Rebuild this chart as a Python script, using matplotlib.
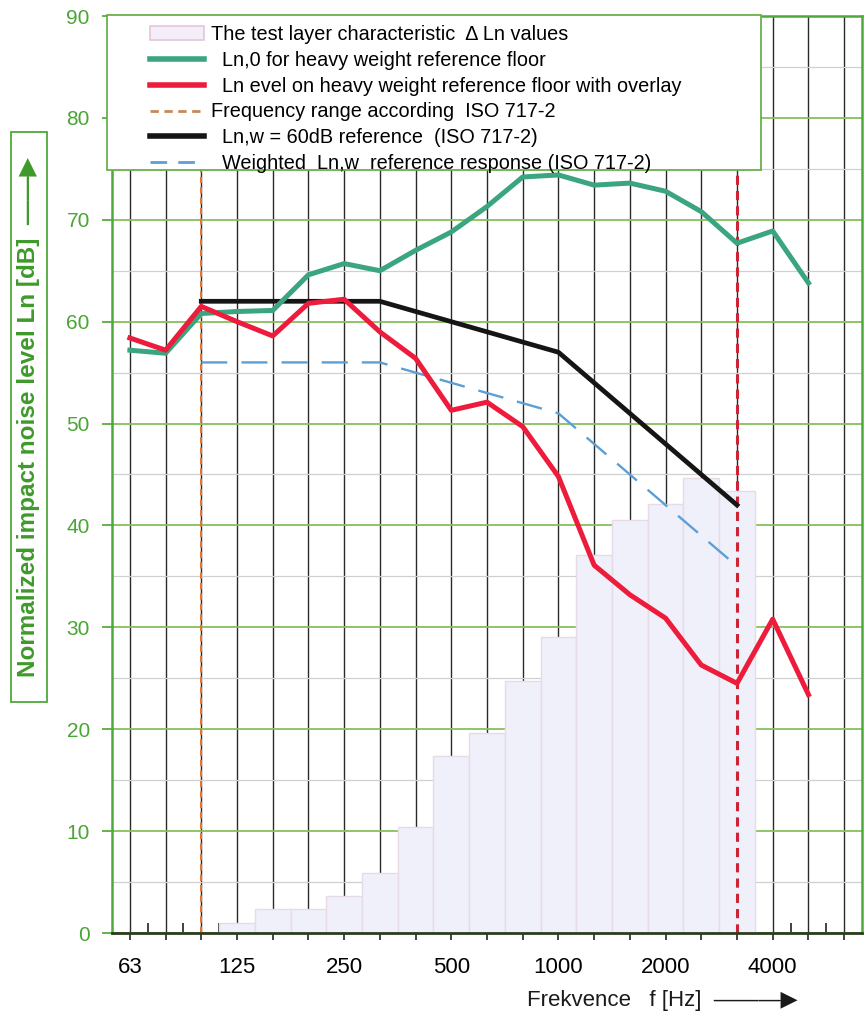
import numpy as np
import matplotlib.pyplot as plt
from matplotlib.lines import Line2D
from matplotlib.patches import Patch, Rectangle

# one-third octave band centre frequencies [Hz]
freq_bands = ['63', '80', '100', '125', '160', '200', '250', '315', '400', '500', '630',
              '800', '1000', '1250', '1600', '2000', '2500', '3150', '4000', '5000', '6300']
tick_labels = ['63', '125', '250', '500', '1000', '2000', '4000']

# Ln,0 of the bare heavy reference floor, 63 - 5000 Hz
ln0_bare = [57.2, 56.9, 60.8, 61.0, 61.1, 64.6, 65.7, 65.0, 67.0, 68.8, 71.3,
            74.2, 74.4, 73.4, 73.6, 72.8, 70.8, 67.7, 68.9, 63.8]
# Ln of the reference floor with the overlay, 63 - 5000 Hz
ln_overlay = [58.4, 57.2, 61.5, 60.0, 58.6, 61.8, 62.2, 59.0, 56.4, 51.3, 52.1,
              49.7, 44.8, 36.1, 33.2, 30.9, 26.3, 24.5, 30.8, 23.4]
# ISO 717-2 reference curve at Ln,w = 60 dB, 100 - 3150 Hz
ref_60 = [62, 62, 62, 62, 62, 62, 61, 60, 59, 58, 57, 54, 51, 48, 45, 42]
# reference curve shifted onto the measured overlay, 100 - 3150 Hz
ref_shifted = [56, 56, 56, 56, 56, 56, 55, 54, 53, 52, 51, 48, 45, 42, 39, 36]
# improvement Delta Ln of the test layer, 125 - 3150 Hz
delta_ln = [1.0, 2.4, 2.4, 3.6, 5.9, 10.4, 17.4, 19.6, 24.7, 29.1, 37.1,
            40.5, 42.1, 44.7, 43.4]

GREEN_TXT = '#4aa534'
GREEN_LINE = '#3aa57f'
RED = '#ee1c3c'
BLUE = '#5b9fd6'

idx = np.arange(len(freq_bands))
i100 = freq_bands.index('100')
i125 = freq_bands.index('125')
i3150 = freq_bands.index('3150')

fig = plt.figure(figsize=(8.64, 10.13), dpi=100)
ax = fig.add_axes([112 / 864, 1 - 933 / 1013, 750 / 864, 917 / 1013])

ax.bar(idx[i125:i3150 + 1], delta_ln, width=1.0, color='#eff0fa',
       edgecolor='#e8dbe8', linewidth=1.0, zorder=1)

ax.axvline(i100, color='#e8742c', lw=1.5, ls=(0, (3, 2)), zorder=2)
ax.axvline(i3150, color='#cc2436', lw=2.2, ls=(0, (3, 2)), zorder=2)

ax.plot(idx[i100:i3150 + 1], ref_shifted, color=BLUE, lw=1.7,
        dashes=(11, 6), zorder=3)
ax.plot(idx[i100:i3150 + 1], ref_60, color='#151515', lw=3.4, zorder=3)
ax.plot(idx[:len(ln0_bare)], ln0_bare, color=GREEN_LINE, lw=3.6, zorder=4)
ax.plot(idx[:len(ln_overlay)], ln_overlay, color=RED, lw=3.6, zorder=5)

ax.set_xlim(-0.5, 20.5)
ax.set_ylim(0, 90)

ax.set_xticks(idx)
ax.set_xticklabels([f if f in tick_labels else '' for f in freq_bands],
                   family=['Liberation Sans Narrow', 'Liberation Sans'], fontsize=16)
ax.set_xticks(idx[:-1] + 0.5, minor=True)
ax.set_yticks(np.arange(0, 91, 10))
ax.set_yticks(np.arange(5, 90, 10), minor=True)
ax.set_yticklabels([str(v) for v in range(0, 91, 10)],
                   family='Liberation Sans', fontsize=15, color=GREEN_TXT)

ax.tick_params(axis='x', which='major', direction='out', length=5, width=1.2,
               color='#222222', pad=12)
ax.tick_params(axis='x', which='minor', direction='in', length=7, width=1.2,
               color='#222222')
ax.tick_params(axis='y', which='major', direction='out', length=7, width=1.2,
               color=GREEN_TXT, pad=9)
ax.tick_params(axis='y', which='minor', length=0)

ax.set_axisbelow(True)
ax.grid(axis='x', which='major', color='#2a2a2a', lw=1.0)
ax.grid(axis='y', which='major', color='#86c25a', lw=1.3)
ax.grid(axis='y', which='minor', color='#d0d0d0', lw=0.9)

for side in ['left', 'right', 'top']:
    ax.spines[side].set_color('#4fa83a')
    ax.spines[side].set_linewidth(1.8)
ax.spines['bottom'].set_color('#2b3d1f')
ax.spines['bottom'].set_linewidth(2.0)

# legend box laid over the top of the plot
fig.patches.append(Rectangle((107 / 864, 1 - 170 / 1013), 654 / 864, 155 / 1013,
                             transform=fig.transFigure, facecolor='white',
                             edgecolor='#6ab04c', lw=1.3, zorder=3))
handles = [
    Patch(facecolor='#f4eef8', edgecolor='#e2c6dc', lw=1.2),
    Line2D([], [], color=GREEN_LINE, lw=4),
    Line2D([], [], color=RED, lw=4),
    Line2D([], [], color='#c9875a', lw=2, ls=(0, (3, 2))),
    Line2D([], [], color='#151515', lw=4),
    Line2D([], [], color=BLUE, lw=2, dashes=(6, 4)),
]
labels = [
    'The test layer characteristic  \u0394 Ln values',
    '  Ln,0 for heavy weight reference floor',
    '  Ln evel on heavy weight reference floor with overlay',
    'Frequency range according  ISO 717-2',
    '  Ln,w = 60dB reference  (ISO 717-2)',
    '  Weighted  Ln,w  reference response (ISO 717-2)',
]
fig.legend(handles, labels, loc='upper left', bbox_to_anchor=(140 / 864, 1 - 15 / 1013),
           frameon=False, borderpad=0, handlelength=2.7, handletextpad=0.35,
           labelspacing=0.345, prop={'family': ['Liberation Sans', 'DejaVu Sans'], 'size': 14.3})

# boxed y-axis caption
fig.patches.append(Rectangle((11 / 864, 1 - 702 / 1013), 36 / 864, 570 / 1013,
                             transform=fig.transFigure, facecolor='white',
                             edgecolor='#4fa83a', lw=1.3, zorder=3))
fig.text(29 / 864, 1 - 417 / 1013, 'Normalized impact noise level Ln [dB]  \u2014\u2014\u25b6',
         rotation=90, ha='center', va='center', color='#3e9a2a', fontsize=17.5,
         fontweight='bold', family=['Liberation Sans', 'DejaVu Sans'], zorder=4)

fig.text(527 / 864, 1 - 1000 / 1013, 'Frekvence   f [Hz]  \u2014\u2014\u2014\u25b6',
         ha='left', va='center', fontsize=16, color='#1a1a1a',
         family=['Liberation Sans Narrow', 'Liberation Sans', 'DejaVu Sans'])

fig.savefig('out.png', dpi=100, facecolor='white')
